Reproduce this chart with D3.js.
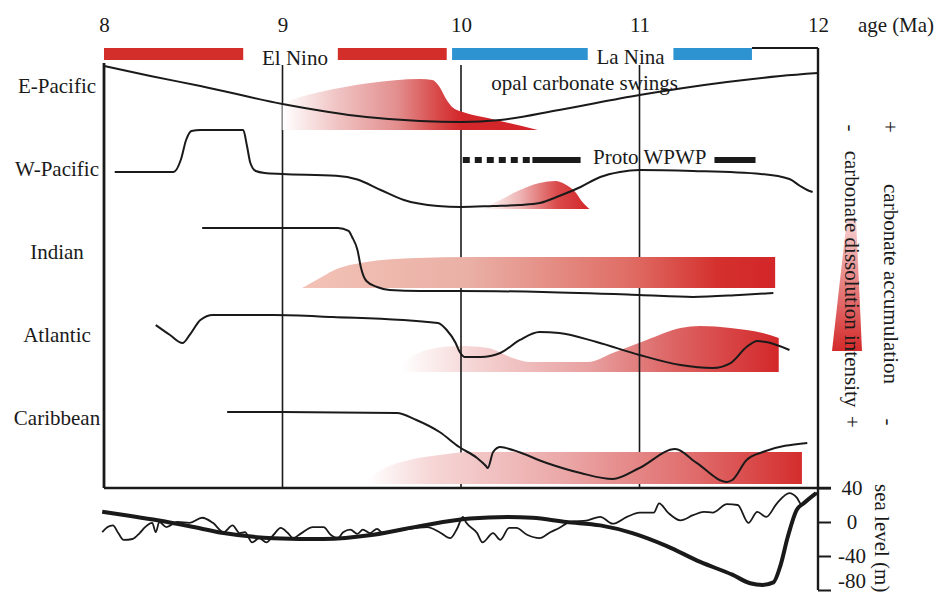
<!DOCTYPE html>
<html>
<head>
<meta charset="utf-8">
<script src="https://cdn.jsdelivr.net/npm/d3@7"></script>
<style>
  html, body { margin: 0; padding: 0; background: #fff; }
  svg { display: block; font-family: "Liberation Serif", "Times New Roman", serif; }
</style>
</head>
<body>
<svg id="chart" width="937" height="594"></svg>
<script>
// ---- data -------------------------------------------------------------
const ageTicks = [8, 9, 10, 11, 12];
const regions = ["E-Pacific", "W-Pacific", "Indian", "Atlantic", "Caribbean"];

// ENSO-like states (age ranges, Ma)
const elNinoPeriods = [[8.0, 8.78], [9.31, 9.92]];
const laNinaPeriods = [[9.95, 10.71], [11.19, 11.63]];

// proto West Pacific Warm Pool
const protoDashed = [[10.01, 10.40]];
const protoSolid = [[10.40, 10.67], [11.42, 11.65]];

// carbonate records per region: [age (Ma), relative level]
const ePacificCurve = [[8.00,9.28],[8.26,8.07],[8.54,6.87],[9.00,4.70],[9.47,3.13],[9.77,2.65],[10.00,2.53],[10.22,2.77],[10.55,3.98],[11.00,5.78],[11.49,7.35],[11.79,8.07],[12.00,8.43]];
const wPacificCurve = [[8.06,6.51],[8.39,6.51],[8.43,7.95],[8.46,10.36],[8.49,11.45],[8.54,11.57],[8.78,11.57],[8.80,9.76],[8.82,7.59],[8.85,6.63],[8.90,6.39],[9.00,6.27],[9.30,6.05],[9.42,5.60],[9.55,4.34],[9.68,3.13],[9.87,2.41],[10.00,2.29],[10.18,2.41],[10.33,2.53],[10.44,2.77],[10.55,3.61],[10.67,4.70],[10.78,5.90],[10.89,6.51],[11.00,6.75],[11.30,6.63],[11.68,6.27],[11.84,5.66],[11.90,4.82],[11.94,4.34],[11.97,4.10]];
const indianCurve = [[8.55,9.76],[9.31,9.76],[9.37,9.40],[9.39,8.67],[9.42,7.11],[9.44,4.94],[9.47,3.37],[9.53,2.65],[9.60,2.29],[9.77,2.17],[9.99,2.17],[10.46,2.05],[11.00,1.69],[11.30,1.45],[11.56,1.69],[11.75,1.93]];
const atlanticCurve = [[8.29,8.07],[8.37,6.87],[8.44,5.90],[8.48,6.87],[8.54,8.67],[8.61,9.28],[8.95,9.28],[9.28,9.04],[9.87,8.31],[9.92,7.47],[9.97,5.90],[9.99,4.94],[10.02,4.22],[10.11,4.22],[10.22,4.70],[10.33,6.27],[10.44,7.23],[10.55,7.11],[10.76,6.02],[11.00,4.46],[11.23,3.25],[11.41,2.89],[11.51,3.49],[11.60,5.42],[11.66,6.14],[11.71,6.02],[11.84,5.06]];
const caribbeanCurve = [[8.69,7.59],[9.00,7.59],[9.64,7.47],[9.75,6.63],[9.88,5.18],[9.99,3.37],[10.09,2.05],[10.14,1.08],[10.15,0.84],[10.18,2.77],[10.22,3.37],[10.29,3.01],[10.48,1.45],[10.67,0.24],[10.85,-0.48],[11.00,0.84],[11.20,3.13],[11.32,1.45],[11.49,-0.84],[11.52,-0.60],[11.60,1.81],[11.69,2.77],[11.94,3.86]];

// carbonate dissolution envelopes: [age (Ma), upper level]; lower level in dissolutionBase
const ePacificDissolution = [[9.00,4.82],[9.10,5.54],[9.21,6.14],[9.49,7.23],[9.77,7.71],[9.84,7.59],[9.88,6.75],[9.92,5.18],[9.95,4.34],[10.01,3.73],[10.15,3.01],[10.43,1.57]];
const wPacificDissolution = [[10.12,2.17],[10.22,3.13],[10.33,4.34],[10.44,5.18],[10.53,5.42],[10.58,5.06],[10.64,4.10],[10.68,2.89],[10.72,2.05]];
const indianDissolution = [[9.11,2.53],[9.21,3.73],[9.28,4.58],[9.47,5.66],[9.75,6.14],[10.05,6.27],[11.76,6.27]];
const atlanticDissolution = [[9.66,3.13],[9.74,4.46],[9.83,5.18],[9.99,5.54],[10.15,5.30],[10.29,4.10],[10.39,3.61],[10.71,3.61],[10.85,4.70],[11.04,6.27],[11.23,7.71],[11.34,7.95],[11.51,7.71],[11.69,7.11],[11.78,6.51]];
const caribbeanDissolution = [[9.47,-0.96],[9.52,0.12],[9.60,1.08],[9.71,1.81],[9.88,2.41],[10.05,2.77],[11.91,2.77]];
const dissolutionBase = [1.57, 2.05, 2.53, 2.41, -1.08];

// sea level (m): long-term trend and high-frequency record, [age (Ma), m]
const seaLevelTicks = [40, 0, -40, -80];
const seaLevelTrend = [[7.99,12],[8.15,7],[8.30,2],[8.48,-5],[8.67,-13],[8.95,-19],[9.23,-20],[9.51,-15],[9.79,-4],[10.05,4],[10.26,6],[10.40,5],[10.59,0],[10.78,-4],[10.96,-13],[11.15,-28],[11.34,-47],[11.52,-62],[11.62,-72],[11.69,-74],[11.75,-71],[11.79,-51],[11.83,-18],[11.88,14],[11.92,22],[11.99,34]];
const seaLevelRecord = [[7.99,-12],[8.02,-6],[8.05,-4],[8.08,-13],[8.11,-21],[8.16,-20],[8.20,-13],[8.23,-6],[8.27,-1],[8.29,-12],[8.31,0],[8.35,-6],[8.41,0],[8.48,-1],[8.55,5],[8.61,-1],[8.67,-12],[8.72,-4],[8.76,-13],[8.79,-12],[8.83,-24],[8.87,-19],[8.91,-24],[8.95,-15],[8.99,-7],[9.03,-13],[9.06,-19],[9.10,-14],[9.17,-6],[9.23,-6],[9.27,-15],[9.31,-19],[9.34,-12],[9.38,-9],[9.42,-14],[9.45,-9],[9.49,-13],[9.53,-8],[9.56,-13],[9.63,-11],[9.71,-8],[9.81,-6],[9.88,-12],[9.94,-19],[9.98,-7],[10.01,6],[10.03,-1],[10.09,-13],[10.12,-24],[10.18,-13],[10.22,-21],[10.27,-7],[10.31,-7],[10.37,-15],[10.44,-19],[10.50,-12],[10.55,-7],[10.61,0],[10.71,2],[10.78,6],[10.85,-2],[10.93,6],[11.00,11],[11.08,11],[11.11,22],[11.16,11],[11.23,2],[11.30,8],[11.36,12],[11.41,11],[11.49,21],[11.55,20],[11.61,-1],[11.66,12],[11.71,6],[11.77,22],[11.84,34],[11.88,29],[11.91,20],[11.96,29],[12.00,35]];

// ---- colours ----------------------------------------------------------
const elNinoColor = "#d42e2b";
const laNinaColor = "#2e93d1";
const inkColor = "#1a1a1a";
const gradientStops = [
  [[0, "#ffffff"], [0.22, "#f0c2c2"], [0.45, "#e38e8e"], [0.6, "#d94c4c"], [0.7, "#d3282b"], [1, "#d3242a"]],
  [[0, "#ffffff"], [0.35, "#eeb4b4"], [0.7, "#da4a4a"], [1, "#d3262a"]],
  [[0, "#f3c2b6"], [0.35, "#eab0a6"], [0.7, "#df6b63"], [0.88, "#d4302d"], [1, "#d3262a"]],
  [[0, "#ffffff"], [0.2, "#f5d3d3"], [0.5, "#e8a0a0"], [0.72, "#dd6464"], [1, "#d3282a"]],
  [[0, "#ffffff"], [0.15, "#f6d6d6"], [0.45, "#eba8a8"], [0.75, "#e06c6c"], [1, "#d42d2d"]]
];
const fontSize = 21;

// ---- scales -----------------------------------------------------------
const svg = d3.select("#chart");
const x = d3.scaleLinear().domain([8, 12]).range([104, 818]);
const rowBase = d3.scaleLinear().domain([0, 4]).range([143, 475]);
const level = d3.scaleLinear().domain([0, 10]).range([0, -83]);
const yRow = (i, v) => rowBase(i) + level(v);
const sea = d3.scaleLinear().domain([40, -80]).range([488, 590]);

const frameTop = 48, frameBottom = 488, frameLeftTop = 63;
const defs = svg.append("defs");

const curves = [ePacificCurve, wPacificCurve, indianCurve, atlanticCurve, caribbeanCurve];
const envelopes = [ePacificDissolution, wPacificDissolution, indianDissolution, atlanticDissolution, caribbeanDissolution];

// horizontal gradient for each dissolution envelope
envelopes.forEach((env, i) => {
  const ext = d3.extent(env, d => d[0]);
  const g = defs.append("linearGradient")
    .attr("id", "diss" + i)
    .attr("gradientUnits", "userSpaceOnUse")
    .attr("x1", x(ext[0])).attr("x2", x(ext[1]))
    .attr("y1", 0).attr("y2", 0);
  gradientStops[i].forEach(s => g.append("stop").attr("offset", s[0]).attr("stop-color", s[1]));
});

const envelopeArea = i => d3.area()
  .x(d => x(d[0]))
  .y0(yRow(i, dissolutionBase[i]))
  .y1(d => yRow(i, d[1]))
  .curve(d3.curveMonotoneX);

function drawEnvelope(i) {
  svg.append("path")
    .datum(envelopes[i])
    .attr("d", envelopeArea(i))
    .attr("fill", `url(#diss${i})`);
}

// Atlantic envelope sits beneath the age gridlines
drawEnvelope(3);

// age gridlines
svg.append("g").selectAll("line")
  .data(ageTicks.slice(1, -1))
  .join("line")
  .attr("x1", d => x(d)).attr("x2", d => x(d))
  .attr("y1", 65).attr("y2", frameBottom)
  .attr("stroke", inkColor).attr("stroke-width", 1.6);

// frame
const frame = svg.append("g").attr("stroke", inkColor).attr("fill", "none");
frame.append("line").attr("x1", x(8)).attr("x2", x(8)).attr("y1", frameLeftTop).attr("y2", frameBottom).attr("stroke-width", 2.8);
frame.append("line").attr("x1", x(8)).attr("x2", x(12) + 13).attr("y1", frameBottom).attr("y2", frameBottom).attr("stroke-width", 2.4);
frame.append("line").attr("x1", x(12)).attr("x2", x(12)).attr("y1", frameTop).attr("y2", sea(-80)).attr("stroke-width", 2.4);
frame.append("line").attr("x1", x(laNinaPeriods[1][1])).attr("x2", x(12)).attr("y1", frameTop).attr("y2", frameTop).attr("stroke-width", 2);

// remaining envelopes over the gridlines
[0, 1, 2, 4].forEach(drawEnvelope);

// carbonate curves
curves.forEach((c, i) => {
  svg.append("path")
    .datum(c)
    .attr("d", d3.line().x(d => x(d[0])).y(d => yRow(i, d[1])).curve(d3.curveMonotoneX))
    .attr("fill", "none")
    .attr("stroke", inkColor)
    .attr("stroke-width", 2);
});

// region labels
svg.append("g").selectAll("text")
  .data(regions)
  .join("text")
  .attr("x", 57)
  .attr("y", (d, i) => rowBase(i) - 50)
  .attr("text-anchor", "middle")
  .attr("font-size", fontSize)
  .attr("fill", inkColor)
  .text(d => d);

// age axis on top
const ageAxis = svg.append("g")
  .attr("transform", "translate(0,32)")
  .call(d3.axisTop(x).tickValues(ageTicks).tickSize(0).tickPadding(0).tickFormat(d => String(d)));
ageAxis.select(".domain").remove();
ageAxis.selectAll("text").attr("font-size", fontSize).attr("font-family", "Liberation Serif, serif").attr("fill", inkColor);
svg.append("text").attr("x", 858).attr("y", 32).attr("font-size", fontSize)
  .attr("textLength", 76).attr("lengthAdjust", "spacing")
  .attr("fill", inkColor).text("age (Ma)");

// El Nino / La Nina bars
const barY = 48, barH = 12;
svg.append("g").selectAll("rect")
  .data(elNinoPeriods)
  .join("rect")
  .attr("x", d => x(d[0])).attr("width", d => x(d[1]) - x(d[0]))
  .attr("y", barY).attr("height", barH)
  .attr("fill", elNinoColor);
svg.append("g").selectAll("rect")
  .data(laNinaPeriods)
  .join("rect")
  .attr("x", d => x(d[0])).attr("width", d => x(d[1]) - x(d[0]))
  .attr("y", barY).attr("height", barH)
  .attr("fill", laNinaColor);
svg.append("text").attr("x", x(9.07)).attr("y", 65).attr("text-anchor", "middle").attr("font-size", fontSize).attr("fill", inkColor).text("El Nino");
svg.append("text").attr("x", x(10.95)).attr("y", 64).attr("text-anchor", "middle").attr("font-size", fontSize).attr("fill", inkColor).text("La Nina");
svg.append("text").attr("x", x(10.17)).attr("y", 90).attr("font-size", fontSize).attr("fill", inkColor).text("opal carbonate swings");

// proto WPWP
const protoY = 160;
svg.append("g").selectAll("line")
  .data(protoDashed)
  .join("line")
  .attr("x1", d => x(d[0])).attr("x2", d => x(d[1]))
  .attr("y1", protoY).attr("y2", protoY)
  .attr("stroke", inkColor).attr("stroke-width", 6).attr("stroke-dasharray", "7,5");
svg.append("g").selectAll("line")
  .data(protoSolid)
  .join("line")
  .attr("x1", d => x(d[0])).attr("x2", d => x(d[1]))
  .attr("y1", protoY).attr("y2", protoY)
  .attr("stroke", inkColor).attr("stroke-width", 6);
svg.append("text").attr("x", x(10.74)).attr("y", 164).attr("font-size", fontSize).attr("fill", inkColor).text("Proto WPWP");

// sea level panel
svg.append("path")
  .datum(seaLevelRecord)
  .attr("d", d3.line().x(d => x(d[0])).y(d => sea(d[1])).curve(d3.curveMonotoneX))
  .attr("fill", "none").attr("stroke", inkColor).attr("stroke-width", 1.8);
svg.append("path")
  .datum(seaLevelTrend)
  .attr("d", d3.line().x(d => x(d[0])).y(d => sea(d[1])).curve(d3.curveMonotoneX))
  .attr("fill", "none").attr("stroke", inkColor).attr("stroke-width", 4);

const seaAxis = svg.append("g")
  .attr("transform", `translate(${x(12)},0)`)
  .call(d3.axisRight(sea).tickValues(seaLevelTicks).tickSize(13).tickSizeOuter(0).tickFormat(d => String(d)));
seaAxis.select(".domain").remove();
seaAxis.selectAll("line").attr("stroke", inkColor).attr("stroke-width", 2);
seaAxis.selectAll("text")
  .attr("x", 34).attr("text-anchor", "middle")
  .attr("dy", d => d === -80 ? "-0.12em" : "0.32em")
  .attr("font-size", fontSize).attr("font-family", "Liberation Serif, serif").attr("fill", inkColor);
svg.append("text")
  .attr("transform", "translate(882,484) rotate(90)")
  .attr("dominant-baseline", "central")
  .attr("font-size", fontSize).attr("fill", inkColor)
  .text("sea level (m)");

// dissolution intensity key
const keyGrad = defs.append("linearGradient").attr("id", "keyGrad").attr("x1", 0).attr("x2", 0).attr("y1", 0).attr("y2", 1);
keyGrad.append("stop").attr("offset", 0).attr("stop-color", "#f7d6d6");
keyGrad.append("stop").attr("offset", 1).attr("stop-color", "#d42a2a");
svg.append("path")
  .attr("d", "M847,218 L856,218 L862,351 L832,351 Z")
  .attr("fill", "url(#keyGrad)");

const rotated = (tx, ty, t, anchor) => svg.append("text")
  .attr("transform", `translate(${tx},${ty}) rotate(90)`)
  .attr("text-anchor", anchor || "middle")
  .attr("dominant-baseline", "central")
  .attr("font-size", fontSize).attr("fill", inkColor)
  .text(t);
rotated(852, 279, "carbonate dissolution intensity");
rotated(851, 128, "-");
rotated(852, 422, "+");
rotated(891, 284, "carbonate accumulation");
rotated(890, 127, "+");
rotated(889, 422, "-");
</script>
</body>
</html>
